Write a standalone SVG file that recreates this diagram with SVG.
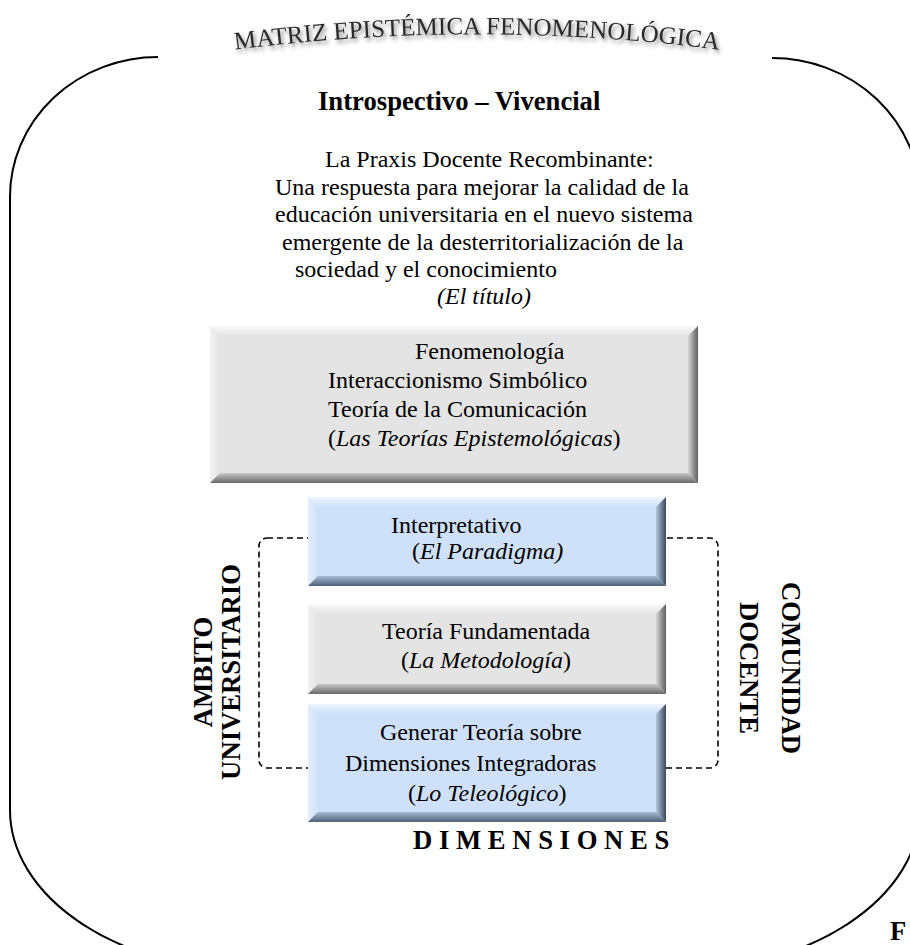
<svg xmlns="http://www.w3.org/2000/svg" width="910" height="945" viewBox="0 0 910 945">
  <style>
    text { font-family: "Liberation Serif", "Times New Roman", serif; fill: #000; }
    .body { font-size: 24px; }
    .bold { font-size: 26.67px; font-weight: bold; }
    .it { font-style: italic; }
    .frame { fill: none; stroke: #000; stroke-width: 2; }
    .bracket { fill: none; stroke: #000; stroke-width: 1.6; stroke-dasharray: 6 4; }
    .title { font-size: 25px; fill: #2a2a2a; }
    .g-face { fill: #e4e4e4; }
    .g-top { fill: url(#gTop); }
    .g-left { fill: url(#gLeft); }
    .g-right { fill: url(#gRight); }
    .g-bottom { fill: url(#gBottom); }
    .b-face { fill: #cfe1fa; }
    .b-top { fill: url(#bTop); }
    .b-left { fill: url(#bLeft); }
    .b-right { fill: url(#bRight); }
    .b-bottom { fill: url(#bBottom); }
  </style>
  <defs>
    <!-- bevel lighting, grey boxes -->
    <linearGradient id="gTop" x1="0" y1="0" x2="0" y2="1">
      <stop offset="0" stop-color="#fafafa"/><stop offset="1" stop-color="#e4e4e4"/>
    </linearGradient>
    <linearGradient id="gLeft" x1="0" y1="0" x2="1" y2="0">
      <stop offset="0" stop-color="#f2f2f2"/><stop offset="1" stop-color="#e4e4e4"/>
    </linearGradient>
    <linearGradient id="gRight" x1="0" y1="0" x2="1" y2="0">
      <stop offset="0" stop-color="#d6d6d6"/><stop offset="1" stop-color="#5e5e5e"/>
    </linearGradient>
    <linearGradient id="gBottom" x1="0" y1="0" x2="0" y2="1">
      <stop offset="0" stop-color="#c6c6c6"/><stop offset="1" stop-color="#6a6a6a"/>
    </linearGradient>
    <!-- bevel lighting, blue boxes -->
    <linearGradient id="bTop" x1="0" y1="0" x2="0" y2="1">
      <stop offset="0" stop-color="#eef5fe"/><stop offset="1" stop-color="#cfe1fa"/>
    </linearGradient>
    <linearGradient id="bLeft" x1="0" y1="0" x2="1" y2="0">
      <stop offset="0" stop-color="#e3eefc"/><stop offset="1" stop-color="#cfe1fa"/>
    </linearGradient>
    <linearGradient id="bRight" x1="0" y1="0" x2="1" y2="0">
      <stop offset="0" stop-color="#b4c7df"/><stop offset="1" stop-color="#3b495b"/>
    </linearGradient>
    <linearGradient id="bBottom" x1="0" y1="0" x2="0" y2="1">
      <stop offset="0" stop-color="#a6bad3"/><stop offset="1" stop-color="#506279"/>
    </linearGradient>
    <filter id="shadow" x="-10%" y="-50%" width="120%" height="200%">
      <feDropShadow dx="2" dy="3" stdDeviation="2.2" flood-color="#000" flood-opacity="0.5"/>
    </filter>
    <path id="arch" d="M 232,50 A 1927,1927 0 0 1 722,50"/>
  </defs>

  <!-- outer rounded frame, open at the top for the heading -->
  <path class="frame" d="M 158,57 A 148,140 0 0 0 10,197 L 10,810 A 250,162 0 0 0 260,972 L 670,972 A 250,162 0 0 0 920,810 L 920,198 A 148,140 0 0 0 772,58"/>

  <!-- arched heading -->
  <g id="heading" filter="url(#shadow)">
    <text class="title"><textPath href="#arch" startOffset="50%" text-anchor="middle">MATRIZ EPISTÉMICA FENOMENOLÓGICA</textPath></text>
  </g>

  <g id="approach">
    <text class="bold" x="318" y="110">Introspectivo – Vivencial</text>
  </g>

  <g id="thesis-title">
    <text class="body" x="325" y="167">La Praxis Docente Recombinante:</text>
    <text class="body" x="275" y="195">Una respuesta para mejorar la calidad de la</text>
    <text class="body" x="275" y="222">educación universitaria en el nuevo sistema</text>
    <text class="body" x="282" y="250">emergente de la desterritorialización de la</text>
    <text class="body" x="295" y="277">sociedad y el conocimiento</text>
    <text class="body it" x="437" y="304">(El título)</text>
  </g>

  <!-- dashed bracket behind the stacked boxes -->
  <g id="connectors">
    <rect class="bracket" x="259" y="538" width="459" height="230" rx="8"/>
  </g>

  <!-- epistemological theories -->
  <g id="theories">
    <rect class="g-face" x="210" y="326" width="488" height="157"/>
    <polygon class="g-top" points="210,326 698,326 688,336 220,336"/>
    <polygon class="g-left" points="210,326 220,336 220,473 210,483"/>
    <polygon class="g-right" points="698,326 698,483 688,473 688,336"/>
    <polygon class="g-bottom" points="210,483 220,473 688,473 698,483"/>
    <text class="body" x="415" y="359">Fenomenología</text>
    <text class="body" x="328" y="388">Interaccionismo Simbólico</text>
    <text class="body" x="328" y="417">Teoría de la Comunicación</text>
    <text class="body" x="328" y="446">(<tspan class="it">Las Teorías Epistemológicas</tspan>)</text>
  </g>

  <!-- paradigm -->
  <g id="paradigm">
    <rect class="b-face" x="308" y="497" width="358" height="89"/>
    <polygon class="b-top" points="308,497 666,497 656,507 318,507"/>
    <polygon class="b-left" points="308,497 318,507 318,576 308,586"/>
    <polygon class="b-right" points="666,497 666,586 656,576 656,507"/>
    <polygon class="b-bottom" points="308,586 318,576 656,576 666,586"/>
    <text class="body" x="391" y="533">Interpretativo</text>
    <text class="body" x="412" y="559">(<tspan class="it">El Paradigma)</tspan></text>
  </g>

  <!-- methodology -->
  <g id="methodology">
    <rect class="g-face" x="308" y="604" width="358" height="90"/>
    <polygon class="g-top" points="308,604 666,604 656,614 318,614"/>
    <polygon class="g-left" points="308,604 318,614 318,684 308,694"/>
    <polygon class="g-right" points="666,604 666,694 656,684 656,614"/>
    <polygon class="g-bottom" points="308,694 318,684 656,684 666,694"/>
    <text class="body" x="382" y="639">Teoría Fundamentada</text>
    <text class="body" x="401" y="668">(<tspan class="it">La Metodología</tspan>)</text>
  </g>

  <!-- teleology -->
  <g id="teleology">
    <rect class="b-face" x="308" y="704" width="358" height="118"/>
    <polygon class="b-top" points="308,704 666,704 656,714 318,714"/>
    <polygon class="b-left" points="308,704 318,714 318,812 308,822"/>
    <polygon class="b-right" points="666,704 666,822 656,812 656,714"/>
    <polygon class="b-bottom" points="308,822 318,812 656,812 666,822"/>
    <text class="body" x="380" y="740">Generar Teoría sobre</text>
    <text class="body" x="345" y="771">Dimensiones Integradoras</text>
    <text class="body" x="408" y="801">(<tspan class="it">Lo Teleológico</tspan>)</text>
  </g>

  <g id="dimensions">
    <text class="bold" x="413" y="849">D I M E N S I O N E S</text>
  </g>

  <g id="university-scope">
    <text class="bold" text-anchor="middle" transform="translate(212,672) rotate(-90)">AMBITO</text>
    <text class="bold" text-anchor="middle" transform="translate(240,672) rotate(-90)">UNIVERSITARIO</text>
  </g>

  <g id="teaching-community">
    <text class="bold" text-anchor="middle" transform="translate(782,668) rotate(90)">COMUNIDAD</text>
    <text class="bold" text-anchor="middle" transform="translate(740,668) rotate(90)">DOCENTE</text>
  </g>

  <g id="footer">
    <text class="bold" x="890" y="940">F</text>
  </g>
</svg>
